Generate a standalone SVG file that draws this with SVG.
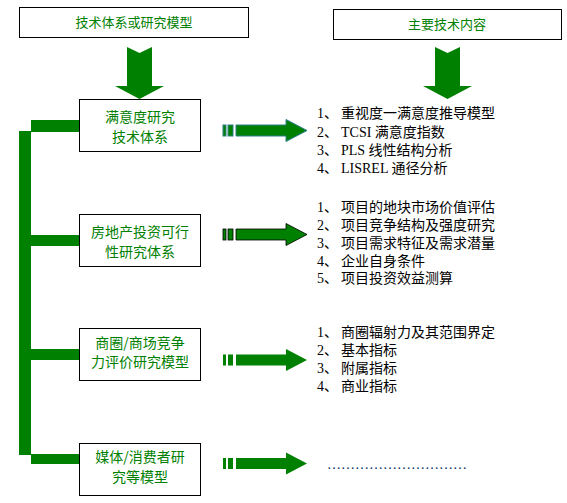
<svg xmlns="http://www.w3.org/2000/svg" width="567" height="503" viewBox="0 0 567 503">
<defs>
<style>
.box{fill:#fff;stroke:#000;stroke-width:1}
.gt{fill:#008000;font-family:"Noto Sans CJK SC","Liberation Sans",sans-serif;font-size:14px;text-anchor:middle}
.ht{fill:#008000;font-family:"Noto Sans CJK SC","Liberation Sans",sans-serif;font-size:13px;text-anchor:middle}
.lt{fill:#000;font-family:"Liberation Serif","Noto Sans CJK SC",serif;font-size:14px}
.g{fill:#008000}
</style>
<g id="rarrow">
<rect x="0" y="-5.5" width="3" height="11"/>
<rect x="5" y="-5.5" width="5" height="11"/>
<polygon points="13,-5.5 63,-5.5 63,-11 84,0 63,11 63,5.5 13,5.5"/>
</g>
</defs>
<rect width="567" height="503" fill="#fff"/>

<g id="header-left">
<rect class="box" x="19.5" y="7.5" width="229" height="30"/>
<text class="ht" x="134" y="27">技术体系或研究模型</text>
</g>
<g id="header-right">
<rect class="box" x="333.5" y="9.5" width="228" height="30"/>
<text class="ht" x="447" y="29">主要技术内容</text>
</g>

<g id="connectors">
<polygon class="g" points="127,47 139.5,53 152,47 152,86 164,86 139.5,99 115,86 127,86"/>
<polygon class="g" points="435,47 447.5,53 460,47 460,86 472,86 447.5,99 423,86 435,86"/>
<rect class="g" x="19" y="131" width="12" height="324"/>
<rect class="g" x="31" y="120" width="48" height="12"/>
<rect class="g" x="31" y="235" width="48" height="11"/>
<rect class="g" x="31" y="349" width="48" height="11"/>
<rect class="g" x="31" y="454" width="48" height="10"/>
<use href="#rarrow" transform="translate(223,130.5)" fill="#008000" stroke="#2a7f8a" stroke-width="1"/>
<use href="#rarrow" transform="translate(223,234.5)" fill="#008000" stroke="#000" stroke-width="0.8"/>
<use href="#rarrow" transform="translate(223,360)" fill="#008000"/>
<use href="#rarrow" transform="translate(223,463.5)" fill="#008000"/>
</g>

<g id="node1">
<rect class="box" x="79.5" y="99.5" width="121" height="52"/>
<text class="gt" x="140" y="122">满意度研究</text>
<text class="gt" x="140" y="142">技术体系</text>
</g>
<g id="node2">
<rect class="box" x="79.5" y="214.5" width="121" height="52"/>
<text class="gt" x="140" y="237">房地产投资可行</text>
<text class="gt" x="140" y="257">性研究体系</text>
</g>
<g id="node3">
<rect class="box" x="79.5" y="328.5" width="121" height="52"/>
<text class="gt" x="140" y="348">商圈/商场竞争</text>
<text class="gt" x="140" y="367">力评价研究模型</text>
</g>
<g id="node4">
<rect class="box" x="79.5" y="443.5" width="121" height="52"/>
<text class="gt" x="140" y="462">媒体/消费者研</text>
<text class="gt" x="140" y="482">究等模型</text>
</g>

<g id="list1">
<text class="lt" x="317" y="118">1、</text><text class="lt" x="341" y="118">重视度一满意度推导模型</text>
<text class="lt" x="317" y="137">2、</text><text class="lt" x="341" y="137">TCSI 满意度指数</text>
<text class="lt" x="317" y="155">3、</text><text class="lt" x="341" y="155">PLS 线性结构分析</text>
<text class="lt" x="317" y="173">4、</text><text class="lt" x="341" y="173">LISREL 通径分析</text>
</g>
<g id="list2">
<text class="lt" x="317" y="212">1、</text><text class="lt" x="341" y="212">项目的地块市场价值评估</text>
<text class="lt" x="317" y="230">2、</text><text class="lt" x="341" y="230">项目竞争结构及强度研究</text>
<text class="lt" x="317" y="248">3、</text><text class="lt" x="341" y="248">项目需求特征及需求潜量</text>
<text class="lt" x="317" y="266">4、</text><text class="lt" x="341" y="266">企业自身条件</text>
<text class="lt" x="317" y="283">5、</text><text class="lt" x="341" y="283">项目投资效益测算</text>
</g>
<g id="list3">
<text class="lt" x="317" y="337">1、</text><text class="lt" x="341" y="337">商圈辐射力及其范围界定</text>
<text class="lt" x="317" y="355">2、</text><text class="lt" x="341" y="355">基本指标</text>
<text class="lt" x="317" y="373">3、</text><text class="lt" x="341" y="373">附属指标</text>
<text class="lt" x="317" y="391">4、</text><text class="lt" x="341" y="391">商业指标</text>
</g>
<g id="list4">
<text x="327" y="469" style="fill:#003366;font-family:'Liberation Serif',serif;font-size:14px">…………………………</text>
</g>
</svg>
